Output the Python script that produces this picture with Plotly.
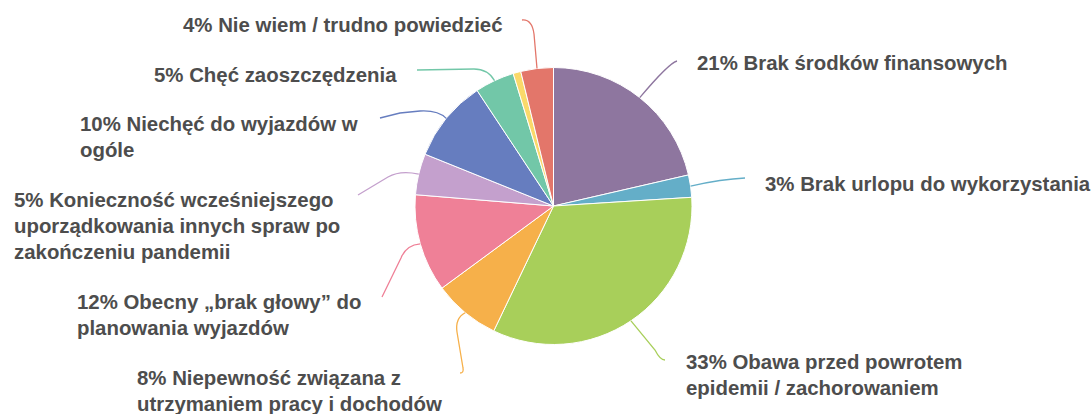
import math
import plotly.graph_objects as go

W, H = 1091, 414

categories = [
    "Brak środków finansowych",
    "Brak urlopu do wykorzystania",
    "Obawa przed powrotem epidemii / zachorowaniem",
    "Niepewność związana z utrzymaniem pracy i dochodów",
    "Obecny „brak głowy” do planowania wyjazdów",
    "Konieczność wcześniejszego uporządkowania innych spraw po zakończeniu pandemii",
    "Niechęć do wyjazdów w ogóle",
    "Chęć zaoszczędzenia",
    "Inne",
    "Nie wiem / trudno powiedzieć",
]
values = [21.4, 2.6, 33.1, 7.8, 11.4, 4.8, 9.6, 4.6, 0.9, 3.8]
colors = ["#8E769F", "#64AEC8", "#A8CF5A", "#F6B04A", "#EF8097",
          "#C4A0CD", "#667DBF", "#72C7A8", "#FAD96A", "#E3766A"]

# label text lines (None = no label)
label_lines = [
    ["21% Brak środków finansowych"],
    ["3% Brak urlopu do wykorzystania"],
    ["33% Obawa przed powrotem", "epidemii / zachorowaniem"],
    ["8% Niepewność związana z", "utrzymaniem pracy i dochodów"],
    ["12% Obecny „brak głowy” do", "planowania wyjazdów"],
    ["5% Konieczność wcześniejszego", "uporządkowania innych spraw po", "zakończeniu pandemii"],
    ["10% Niechęć do wyjazdów w", "ogóle"],
    ["5% Chęć zaoszczędzenia"],
    None,
    ["4% Nie wiem / trudno powiedzieć"],
]
# layout: left x and first-line y of each label (pixels)
label_pos = [(695, 63), (763, 184), (684, 362), (135, 378), (75, 302),
             (12, 200), (78, 124), (152, 75), None, (181, 25)]
LINE_H = 26

# leader line bend points (pixels): list of path segments after the start point
leader_rest = [
    [("Q", (669, 63), (677, 61))],
    [("Q", (722, 179), (745, 178))],
    [("L", (655, 350)), ("Q", (660, 360), (665, 360))],
    [("Q", (455, 318), (457, 332)), ("L", (463, 368)), ("Q", (464, 373), (460, 373))],
    [("Q", (406, 245), (401, 258)), ("L", (382, 297))],
    [("Q", (400, 170), (388, 177)), ("L", (358, 195))],
    [("Q", (438, 110), (420, 111)), ("L", (400, 113)), ("L", (380, 118))],
    [("Q", (488, 69), (474, 69)), ("L", (417, 70))],
    None,
    [("L", (534, 34)), ("Q", (532, 19), (522, 20))],
]

CX, CY, R = 553.5, 206.0, 138.5

fig = go.Figure(go.Pie(
    labels=categories, values=values, sort=False, direction="clockwise",
    rotation=0, textinfo="none", hoverinfo="label+percent",
    marker=dict(colors=colors, line=dict(color="white", width=1)),
    domain=dict(x=[(CX - R) / W, (CX + R) / W], y=[1 - (CY + R) / H, 1 - (CY - R) / H]),
    showlegend=False,
))

def px(x, y):
    return f"{x / W:.5f},{1 - y / H:.5f}"

total = sum(values)
cum = 0.0
shapes = []
annotations = []
for i, v in enumerate(values):
    mid = (cum + v / 2) / total * 2 * math.pi
    cum += v
    if leader_rest[i] is None:
        continue
    sx = CX + R * math.sin(mid)
    sy = CY - R * math.cos(mid)
    path = "M " + px(sx, sy)
    for seg in leader_rest[i]:
        if seg[0] == "L":
            path += " L " + px(*seg[1])
        else:
            path += " Q " + px(*seg[1]) + " " + px(*seg[2])
    shapes.append(dict(type="path", path=path, xref="paper", yref="paper",
                       line=dict(color=colors[i], width=1.3)))
    lx, ly = label_pos[i]
    for j, t in enumerate(label_lines[i]):
        annotations.append(dict(
            text=t, x=lx / W, y=1 - (ly + j * LINE_H) / H, xref="paper", yref="paper",
            xanchor="left", yanchor="middle", showarrow=False,
            font=dict(family="Liberation Sans, Arial, sans-serif", size=20.4,
                      color="#4D4D4D", weight="bold"),
        ))

fig.update_layout(
    width=W, height=H, margin=dict(l=0, r=0, t=0, b=0),
    paper_bgcolor="white", plot_bgcolor="white",
    shapes=shapes, annotations=annotations,
)
fig.write_html("out.html", config={"displayModeBar": False},
               post_script="document.body.style.margin='0';")
